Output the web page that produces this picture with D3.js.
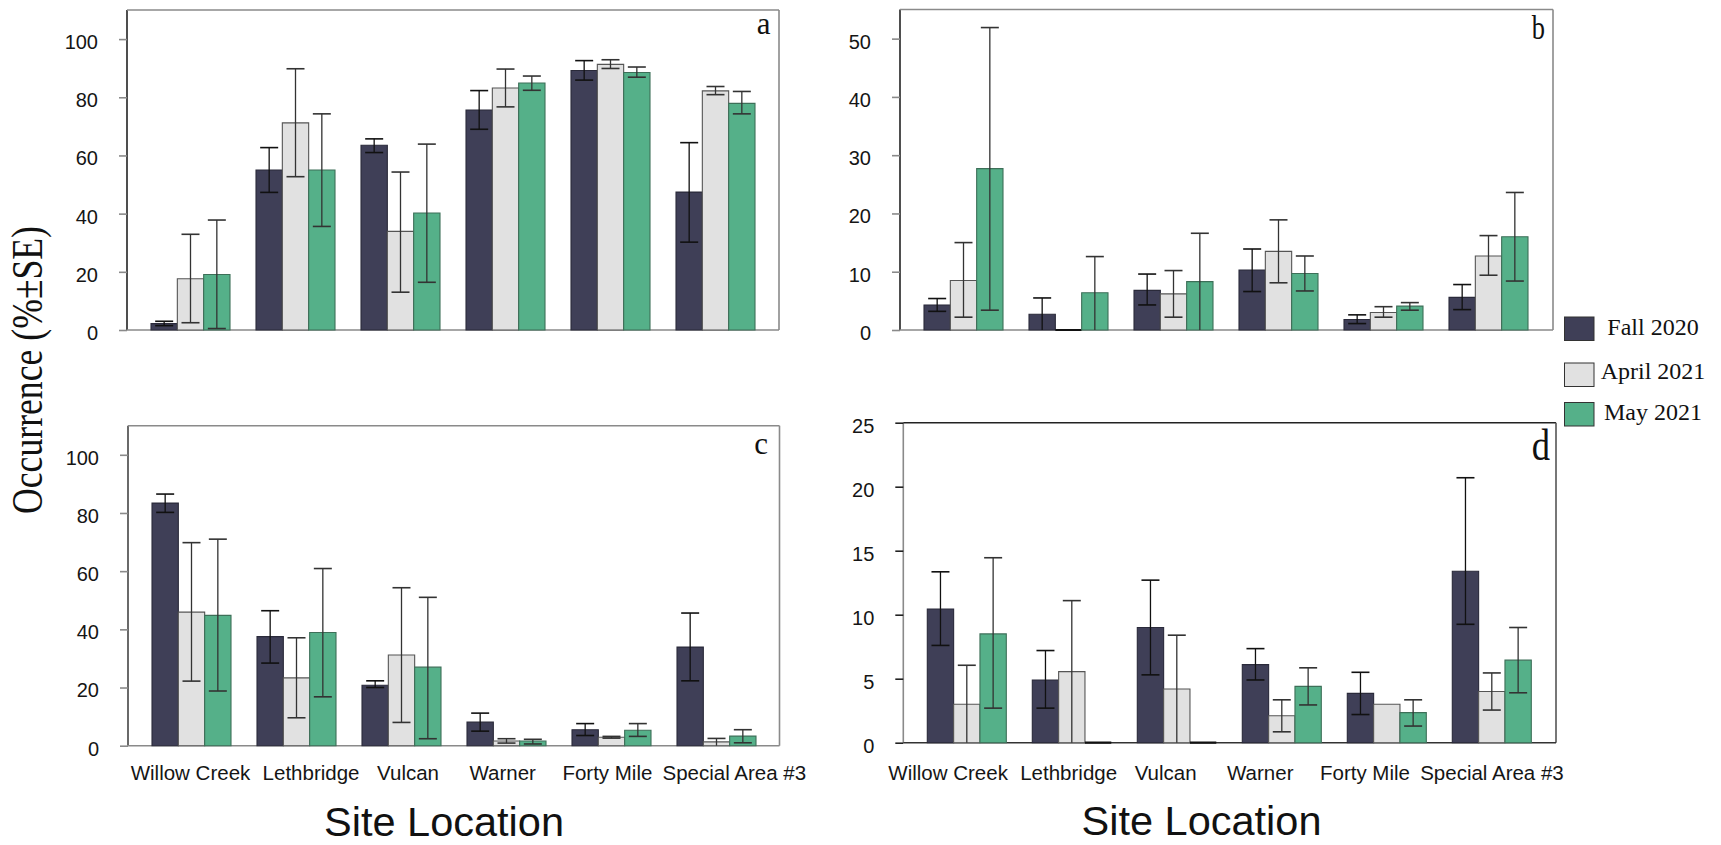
<!DOCTYPE html>
<html>
<head>
<meta charset="utf-8">
<script src="https://cdn.jsdelivr.net/npm/d3@7"></script>
<style>
  html, body { margin: 0; padding: 0; background: #fff; }
  svg { display: block; }
</style>
</head>
<body>
<svg id="chart" width="1721" height="845"></svg>
<script>
// ---- data ----
const sites = ["Willow Creek", "Lethbridge", "Vulcan", "Warner", "Forty Mile", "Special Area #3"];
const seasons = ["Fall 2020", "April 2021", "May 2021"];

// panel a: mean, lower and upper end of the SE bar, one row per season
const aMean = [[2.2, 55.0, 63.5, 75.6, 89.2, 47.4], [17.6, 71.2, 33.9, 83.2, 91.3, 82.2], [19.1, 55.0, 40.2, 84.9, 88.5, 77.9]];
const aLow  = [[1.5, 47.3, 61.0, 69.0, 85.9, 30.2], [2.5, 52.7, 13.0, 76.7, 89.9, 80.9], [0.5, 35.6, 16.4, 82.4, 86.9, 74.3]];
const aHigh = [[3.0, 62.7, 65.7, 82.3, 92.6, 64.4], [32.9, 89.8, 54.3, 89.7, 92.9, 83.7], [37.8, 74.3, 63.9, 87.3, 90.4, 82.0]];

// panel b
const bMean = [[4.3, 2.7, 6.8, 10.3, 1.8, 5.6], [8.5, 0, 6.2, 13.5, 3.0, 12.7], [27.7, 6.4, 8.3, 9.7, 4.1, 16.0]];
const bLow  = [[3.2, 0, 4.3, 6.6, 1.1, 3.5], [2.2, 0, 2.2, 8.1, 2.2, 9.4], [3.4, 0, 0, 6.7, 3.4, 8.4]];
const bHigh = [[5.4, 5.5, 9.6, 13.9, 2.6, 7.8], [15.0, 0, 10.2, 18.9, 4.0, 16.2], [51.9, 12.6, 16.6, 12.7, 4.7, 23.6]];

// panel c
const cMean = [[83.4, 37.5, 20.8, 8.1, 5.5, 33.9], [45.9, 23.3, 31.2, 1.6, 2.9, 1.3], [44.8, 38.9, 27.0, 1.6, 5.3, 3.3]];
const cLow  = [[80.2, 28.4, 20.0, 5.0, 3.5, 22.3], [22.2, 9.6, 8.0, 0.9, 2.6, 0], [18.8, 16.8, 2.4, 0.6, 3.2, 1.0]];
const cHigh = [[86.5, 46.4, 22.3, 11.2, 7.6, 45.6], [69.8, 37.1, 54.3, 2.4, 3.2, 2.5], [71.0, 60.9, 51.0, 2.2, 7.6, 5.5]];

// panel d
const dMean = [[10.45, 4.9, 9.0, 6.1, 3.85, 13.4], [3.0, 5.55, 4.2, 2.1, 3.0, 4.0], [8.5, 0, 0, 4.4, 2.35, 6.45]];
const dLow  = [[7.6, 2.7, 5.3, 4.9, 2.2, 9.25], [0, 0, 0, 0.85, 3.0, 2.55], [2.7, 0, 0, 2.95, 1.3, 3.9]];
const dHigh = [[13.35, 7.2, 12.7, 7.35, 5.5, 20.7], [6.05, 11.1, 8.4, 3.35, 3.0, 5.45], [14.45, 0, 0, 5.85, 3.35, 9.0]];

const ticksA = [0, 20, 40, 60, 80, 100];
const ticksB = [0, 10, 20, 30, 40, 50];
const ticksC = [0, 20, 40, 60, 80, 100];
const ticksD = [0, 5, 10, 15, 20, 25];

// ---- styling ----
const fills = ["#3f3f57", "#e1e1e1", "#55b089"];
const barStroke = ["#2a2a3a", "#555555", "#3d6f58"];
const SANS = "'Liberation Sans', Arial, sans-serif";
const SERIF = "'Liberation Serif', 'Times New Roman', serif";
const GREY = "#8a8a8a";
const DARK = "#222222";

// spacing between consecutive site labels along the bottom line
const labelGaps = [12.3, 17.6, 30.4, 26.5, 10.2];

const panels = [
  { letter: "a", mean: aMean, low: aLow, high: aHigh, ticks: ticksA, yMax: 110,
    left: 127, right: 779, top: 10, bottom: 330,
    edge: { left: DARK, top: GREY, right: GREY, bottom: GREY }, tick: GREY,
    letterX: 770.5, letterY: 34, letterSize: 31, letterScale: 1 },
  { letter: "b", mean: bMean, low: bLow, high: bHigh, ticks: ticksB, yMax: 55,
    left: 900, right: 1553, top: 9.5, bottom: 330,
    edge: { left: DARK, top: GREY, right: GREY, bottom: GREY }, tick: GREY,
    letterX: 1545, letterY: 39.3, letterSize: 33, letterScale: 0.8 },
  { letter: "c", mean: cMean, low: cLow, high: cHigh, ticks: ticksC, yMax: 110,
    left: 128, right: 779.5, top: 425.7, bottom: 745.7,
    edge: { left: "#444", top: GREY, right: GREY, bottom: GREY }, tick: GREY,
    letterX: 768, letterY: 454, letterSize: 31, letterScale: 1,
    labels: { x: 130.7, y: 780 }, title: { x: 444, y: 836 } },
  { letter: "d", mean: dMean, low: dLow, high: dHigh, ticks: ticksD, yMax: 25,
    left: 903.3, right: 1556, top: 422.7, bottom: 742.7,
    edge: { left: GREY, top: DARK, right: "#555", bottom: "#333" }, tick: DARK,
    letterX: 1550, letterY: 460, letterSize: 44, letterScale: 0.83,
    labels: { x: 888.3, y: 780 }, title: { x: 1201.5, y: 835 } }
];

const svg = d3.select("#chart");

function drawPanel(p) {
  const g = svg.append("g");
  const y = d3.scaleLinear().domain([0, p.yMax]).range([p.bottom, p.top]);
  const x0 = d3.scaleBand().domain(sites)
    .range([p.left + 24, p.left + 628]).paddingInner(26 / 105).paddingOuter(0);
  const x1 = d3.scaleBand().domain(seasons).range([0, x0.bandwidth()]);

  // plot frame, each side drawn on its own
  const sides = [
    ["left", p.left, p.top, p.left, p.bottom],
    ["top", p.left, p.top, p.right, p.top],
    ["right", p.right, p.top, p.right, p.bottom],
    ["bottom", p.left, p.bottom, p.right, p.bottom]
  ];
  g.selectAll("line.frame").data(sides).enter().append("line")
    .attr("class", "frame")
    .attr("x1", d => d[1]).attr("y1", d => d[2])
    .attr("x2", d => d[3]).attr("y2", d => d[4])
    .attr("stroke", d => p.edge[d[0]])
    .attr("stroke-width", 1.6);

  // value axis
  const ax = g.append("g")
    .attr("transform", `translate(${p.left},0)`)
    .call(d3.axisLeft(y).tickValues(p.ticks).tickSize(8).tickPadding(21));
  ax.select(".domain").remove();
  ax.selectAll(".tick line").attr("stroke", p.tick).attr("stroke-width", 1.6);
  ax.selectAll(".tick text")
    .attr("font-family", SANS).attr("font-size", 20)
    .attr("fill", "#151515").attr("dy", "0.47em");

  // bars (paths so that zero-valued bars still show as a line on the baseline)
  seasons.forEach((s, si) => {
    g.selectAll(null).data(sites).enter().append("path")
      .attr("d", (site, i) => {
        const xa = x0(site) + x1(s), w = x1.bandwidth();
        const y0 = y(0), yv = y(p.mean[si][i]);
        return `M${xa},${y0}V${yv}H${xa + w}V${y0}Z`;
      })
      .attr("fill", fills[si])
      .attr("stroke", (site, i) => p.mean[si][i] === 0 ? "#111" : barStroke[si])
      .attr("stroke-width", (site, i) => p.mean[si][i] === 0 ? 2.2 : 1.1);
  });

  // SE bars
  const cap = 9;
  seasons.forEach((s, si) => {
    sites.forEach((site, i) => {
      const lo = p.low[si][i], hi = p.high[si][i];
      if (hi <= lo) return;
      const cx = x0(site) + x1(s) + x1.bandwidth() / 2;
      const col = si === 0 ? "#111" : "#333";
      g.append("line").attr("x1", cx).attr("x2", cx)
        .attr("y1", y(lo)).attr("y2", y(hi))
        .attr("stroke", col).attr("stroke-width", 1.3);
      g.append("line").attr("x1", cx - cap).attr("x2", cx + cap)
        .attr("y1", y(hi)).attr("y2", y(hi))
        .attr("stroke", col).attr("stroke-width", 1.6);
      if (lo > 0) {
        g.append("line").attr("x1", cx - cap).attr("x2", cx + cap)
          .attr("y1", y(lo)).attr("y2", y(lo))
          .attr("stroke", col).attr("stroke-width", 1.6);
      }
    });
  });

  // panel letter
  g.append("text")
    .attr("transform", `translate(${p.letterX},${p.letterY}) scale(${p.letterScale},1)`)
    .attr("text-anchor", "end")
    .attr("font-family", SERIF).attr("font-size", p.letterSize).attr("fill", "#111")
    .text(p.letter);

  // site labels laid out along one line, then the axis title
  if (p.labels) {
    let xPos = p.labels.x;
    sites.forEach((site, i) => {
      const t = g.append("text")
        .attr("x", xPos).attr("y", p.labels.y)
        .attr("font-family", SANS).attr("font-size", 20.5).attr("fill", "#151515")
        .text(site);
      xPos += t.node().getComputedTextLength() + (labelGaps[i] || 0);
    });
    g.append("text")
      .attr("x", p.title.x).attr("y", p.title.y)
      .attr("text-anchor", "middle")
      .attr("font-family", SANS).attr("font-size", 41.5).attr("fill", "#111")
      .text("Site Location");
  }
}

panels.forEach(drawPanel);

// shared y title
svg.append("text")
  .attr("transform", "translate(41.5,370) rotate(-90)")
  .attr("text-anchor", "middle")
  .attr("font-family", SERIF).attr("font-size", 45).attr("fill", "#111")
  .attr("textLength", 288).attr("lengthAdjust", "spacingAndGlyphs")
  .text("Occurrence (%±SE)");

// legend
const legendTops = [317, 363, 402.5];
const legendBase = [335, 379.3, 420];
const legend = svg.append("g");
legend.selectAll("rect").data(seasons).enter().append("rect")
  .attr("x", 1564.5).attr("y", (d, i) => legendTops[i])
  .attr("width", 29.5).attr("height", 23.5)
  .attr("fill", (d, i) => fills[i])
  .attr("stroke", "#333").attr("stroke-width", 1);
legend.selectAll("text").data(seasons).enter().append("text")
  .attr("x", 1653).attr("y", (d, i) => legendBase[i])
  .attr("text-anchor", "middle")
  .attr("font-family", SERIF).attr("font-size", 24).attr("fill", "#111")
  .text(d => d);
</script>
</body>
</html>
